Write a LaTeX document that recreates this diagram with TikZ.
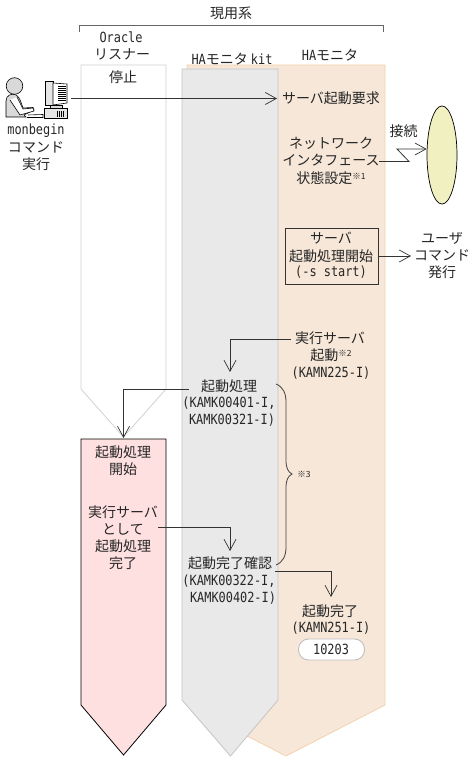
\documentclass[tikz,border=0pt]{standalone}
\usepackage{fontspec}
\usetikzlibrary{arrows.meta}
\setmainfont{Noto Sans CJK JP}
\newfontfamily\lat{DejaVu Sans Mono}[Scale=1.0,FakeStretch=0.85]
\newcommand{\La}[1]{{\lat #1}}
\newcommand{\Nt}[1]{\raisebox{3.5pt}{\fontsize{8.5pt}{9pt}\selectfont #1}}
\definecolor{orangefill}{HTML}{F6E7D8}
\definecolor{orangeline}{HTML}{F3D2B0}
\definecolor{grayfill}{HTML}{E9E9E9}
\definecolor{grayline}{HTML}{C4C4C4}
\definecolor{pinkfill}{HTML}{FFE0E0}
\definecolor{ellfill}{HTML}{F0F0C0}
\tikzset{
 x=1pt,y=-1pt,
 lab/.style={inner sep=0pt,font=\fontsize{14pt}{15pt}\selectfont,text=black!85},
 conn/.style={draw=black!80,line width=0.8pt,-{Straight Barb[length=11pt,width=12pt,line width=0.7pt]}},
 lane/.style={line width=0.8pt},
 iconline/.style={draw=black,line width=0.6pt},
 iconfill/.style={fill=black!15,draw=black,line width=0.6pt}
}
\begin{document}
\begin{tikzpicture}
\useasboundingbox (0,0) rectangle (473,759);
% lanes
\draw[lane,draw=orangeline,fill=orangefill] (187,65) -- (385,65) -- (385,705) -- (286,756) -- (187,705) -- cycle;
\draw[lane,draw=grayline,fill=grayfill] (182,69) -- (278,69) -- (278,700) -- (230.5,756) -- (182,700) -- cycle;
\draw[lane,draw=black!18,fill=white] (81,65) -- (166,65) -- (166,389) -- (123.5,437) -- (81,389) -- cycle;
\draw[lane,draw=black,fill=pinkfill] (81,439) -- (166,439) -- (166,705) -- (123.5,755) -- (81,705) -- cycle;
% bracket
\coordinate (brL) at (79,32); \coordinate (brR) at (383,32);
\draw[black!60,line width=1pt] (brL) -- (79,26) -- (383,26) -- (brR);
% labels
\node[lab] (tgen) at (231,13) {現用系};
\node[lab] (tor) at (121,37) {\La{Oracle}};
\node[lab] (tli) at (122,54) {リスナー};
\node[lab] (tst) at (123,77) {停止};
\node[lab] (tkit) at (232,59) {\La{HA}モニタ \La{kit}};
\node[lab] (tha) at (330,55) {\La{HA}モニタ};
% person icon
\begin{scope}
\draw[iconfill] (14.5,86) circle (8.3);
\path[iconfill] (6,117) -- (6,101) .. controls (6,95) and (12,93) .. (16,95) .. controls (20,97) and (21,103) .. (23,108) -- (33,107.5) -- (34,110) -- (24,115) -- (26,117) -- cycle;
\draw[iconline,fill=white] (10,100) -- (20,115) -- (34,111) -- (33,108) -- (23,109) -- (17,97);
\draw[iconline] (27,117.5) -- (43,117.5) -- (43,114.5) -- (28,115);
\draw[iconline,fill=black!10] (45,81) -- (53,81) -- (53,105) -- (45,105) -- cycle;
\draw[iconline,fill=white] (53,83) -- (67,84) -- (67,103) -- (53,105) -- cycle;
\foreach \yy in {86,88,...,100} \draw[black,line width=0.6pt] (58,\yy) -- (66,\yy);
\draw[iconline,fill=black!15] (50,105) -- (62,105) -- (62,108.5) -- (50,108.5) -- cycle;
\draw[iconline,fill=black!10] (44,108.5) -- (67.5,108.5) -- (67.5,118) -- (44,118) -- cycle;
\foreach \xx in {57,59,61,63} \draw[black,line width=0.6pt] (\xx,111) -- (\xx,117);
\end{scope}
\node[lab] (m1) at (36,131) {\La{monbegin}};
\node[lab] (m2) at (36,147) {コマンド};
\node[lab] (m3) at (36,164) {実行};
\coordinate (iconR) at (71,98.5);
% right lane
\node[lab] (req) at (331,98) {サーバ起動要求};
\draw[conn] (iconR) -- (277,98.5);
\node[lab] (n1) at (331,143) {ネットワーク};
\node[lab] (n2) at (331,160.5) {インタフェース};
\node[lab] (n3) at (331,178) {状態設定\Nt{※1}};
\node[lab] (conT) at (403.5,131) {接続};
\node[draw=black,line width=0.7pt,fill=ellfill,shape=circle,minimum size=30pt,inner sep=0pt,xscale=1,yscale=3.27] (ell) at (442,155) {};
\coordinate (z0) at (379,161.5);
\draw[conn] (z0) -- (409,161.5) -- (397,149) -- (ell.west |- 0,149);
\node[draw=black!80,line width=0.9pt,minimum width=93pt,minimum height=56pt,inner sep=0pt] (ubox) at (331.5,256) {};
\node[lab] (u1) at (331,238) {サーバ};
\node[lab] (u2) at (331,256) {起動処理開始};
\node[lab] (u3) at (331,272.5) {\La{(-s start)}};
\node[lab] (c1) at (442,238) {ユーザ};
\node[lab] (c2) at (442,255.5) {コマンド};
\node[lab] (c3) at (442,272.5) {発行};
\coordinate (ucmd) at (411,256);
\draw[conn] (ubox.east) -- (ucmd);
\node[lab] (s1) at (330,338) {実行サーバ};
\node[lab] (s2) at (331,355) {起動\Nt{※2}};
\node[lab] (s3) at (331,373) {\La{(KAMN225-I)}};
% kit lane
\node[lab] (k1) at (229,386) {起動処理};
\node[lab] (k2) at (229,403) {\La{(KAMK00401-I,}};
\node[lab] (k3) at (232,420) {\La{KAMK00321-I)}};
\coordinate (s1L) at (291,339);
\draw[conn] (s1L) -- (230,339) -- (230,372);
\coordinate (k1L) at (189,389.5);
\coordinate (p0) at (123.5,438);
\draw[conn] (k1L) -- (123.5,389.5) -- (p0);
% pink
\node[lab] (p1) at (123,452) {起動処理};
\node[lab] (p2) at (123,469.5) {開始};
\node[lab] (p3) at (123,512) {実行サーバ};
\node[lab] (p4) at (123,529) {として};
\node[lab] (p5) at (123,546) {起動処理};
\node[lab] (p6) at (123,563) {完了};
\coordinate (p4R) at (158,527);
\draw[conn] (p4R) -- (230,527) -- (230,551);
\node[lab] (d1) at (230,563) {起動完了確認};
\node[lab] (d2) at (229,581) {\La{(KAMK00322-I,}};
\node[lab] (d3) at (233,598) {\La{KAMK00402-I)}};
\coordinate (d1R) at (275,571);
\draw[conn] (d1R) -- (331,571) -- (331,597);
% brace
\coordinate (brT) at (276,384); \coordinate (brB) at (276,565); \coordinate (brM) at (292,474);
\draw[black!75,line width=0.8pt] (brT) .. controls (283,387) and (286,393) .. (286,402) -- (286,460) .. controls (286,468) and (288,472) .. (brM) .. controls (288,476) and (286,480) .. (286,488) -- (286,547) .. controls (286,556) and (283,562) .. (brB);
\node[lab,font=\fontsize{8.5pt}{9pt}\selectfont] (n3m) at (304,474) {※3};
% done
\node[lab] (e1) at (330,611) {起動完了};
\node[lab] (e2) at (331,628) {\La{(KAMN251-I)}};
\node[draw=black!25,line width=0.9pt,fill=white,rounded corners=10pt,minimum width=66pt,minimum height=21pt,inner sep=0pt] (pill) at (331.5,649.5) {};
\node[lab] (e3) at (331,649) {\La{10203}};
\end{tikzpicture}
\end{document}
